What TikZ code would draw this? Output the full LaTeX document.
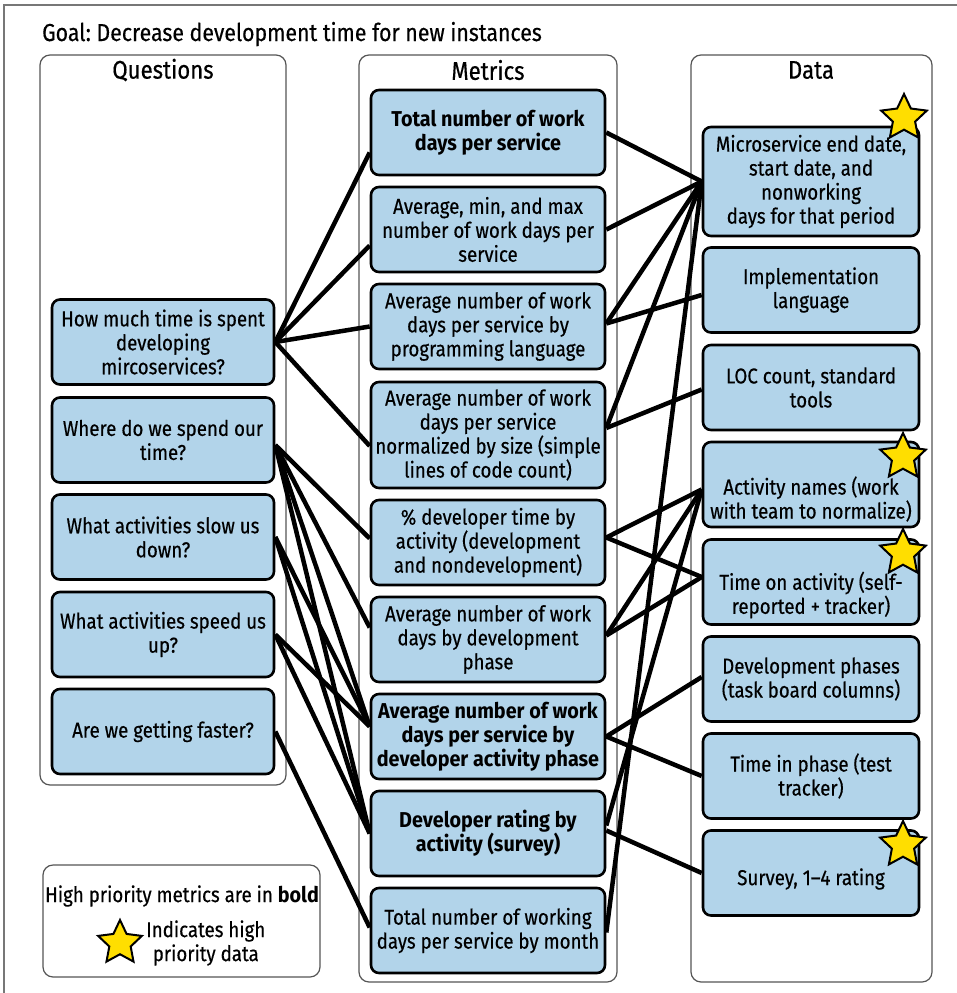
\documentclass[tikz,border=0pt]{standalone}
\usepackage{fontspec}
\setmainfont{Fira Sans}[
  UprightFeatures={FakeStretch=0.87, FakeBold=0.4},
  BoldFeatures={FakeStretch=0.92}]
\usetikzlibrary{shapes.geometric}
\definecolor{boxfill}{RGB}{178,212,234}
\definecolor{staryellow}{RGB}{255,222,0}
\definecolor{framegray}{RGB}{85,85,85}
\frenchspacing
\begin{document}
\begin{tikzpicture}[x=1pt,y=-1pt,
  item/.style={draw=black, line width=2.6pt, fill=boxfill, rounded corners=8pt,
    align=center, inner sep=0pt, font=\fontsize{21.5}{24}\selectfont},
  qbox/.style={item, minimum width=222pt, minimum height=85pt},
  mbox/.style={item, minimum width=234pt, minimum height=85pt},
  dbox/.style={item, minimum width=216pt, minimum height=85pt},
  dtext/.style={align=center, inner sep=0pt, font=\fontsize{21.5}{24}\selectfont},
  column/.style={draw=framegray, line width=1.2pt, rounded corners=10pt},
  link/.style={line width=4.5pt, black},
  prio/.style={star, star points=5, star point ratio=2.05, draw=black, line width=2pt,
    fill=staryellow, minimum size=48pt, inner sep=0pt},
  head/.style={inner sep=0pt, font=\fontsize{25.5}{28}\selectfont},
  goal/.style={inner sep=0pt, font=\fontsize{24.5}{28}\selectfont}
]
\useasboundingbox (0,0) rectangle (957,993);
\fill[white] (0,0) rectangle (957,993);

% outer frame (top and left edges)
\draw[framegray!80, line width=1.5pt] (4,993) -- (4,5) -- (957,5);

% title
\node[goal, anchor=base west] (title) at (42,41) {Goal: Decrease development time for new instances};

% columns
\draw[column] (40,55) rectangle (286,785);
\draw[column] (359,55) rectangle (617,982);
\draw[column] (691,55) rectangle (932,982);
\node[head] (hq) at (163,70) {Questions};
\node[head] (hm) at (488,70) {Metrics};
\node[head] (hd) at (811,70) {Data};

% questions
\node[qbox] (q1) at (163,342) {How much time is spent\\developing\\mircoservices?};
\node[qbox] (q2) at (163,440) {Where do we spend our\\time?};
\node[qbox] (q3) at (163,537) {What activities slow us\\down?};
\node[qbox] (q4) at (163,634.5) {What activities speed us\\up?};
\node[qbox] (q5) at (163,731.5) {Are we getting faster?};

% metrics
\node[mbox] (m1) at (488,132.5) {\textbf{Total number of work}\\\textbf{days per service}};
\node[mbox] (m2) at (488,229.5) {Average, min, and max\\number of work days per\\service};
\node[mbox] (m3) at (488,326.5) {Average number of work\\days per service by\\programming language};
\node[mbox, minimum height=106pt] (m4) at (488,435) {Average number of work\\days per service\\normalized by size (simple\\lines of code count)};
\node[mbox] (m5) at (488,542.5) {\% developer time by\\activity (development\\and nondevelopment)};
\node[mbox] (m6) at (488,639.5) {Average number of work\\days by development\\phase};
\node[mbox] (m7) at (488,736.5) {\textbf{Average number of work}\\\textbf{days per service by}\\\textbf{developer activity phase}};
\node[mbox] (m8) at (488,833.5) {\textbf{Developer rating by}\\\textbf{activity (survey)}};
\node[mbox] (m9) at (488,930.5) {Total number of working\\days per service by month};

% data
\node[dbox, minimum height=109pt] (d1) at (811,181.5) {Microservice end date,\\start date, and\\nonworking\\days for that period};
\node[dbox] (d2) at (811,290) {Implementation\\language};
\node[dbox] (d3) at (811,387.5) {LOC count, standard\\tools};
\node[dbox] (d4) at (811,484.5) {};
\node[dtext] (d4t) at (811,499) {Activity names (work\\with team to normalize)};
\node[dbox] (d5) at (811,582) {};
\node[dtext] (d5t) at (811,595) {Time on activity (self-\\reported + tracker)};
\node[dbox] (d6) at (811,679) {Development phases\\(task board columns)};
\node[dbox] (d7) at (811,776) {Time in phase (test\\tracker)};
\node[dbox] (d8) at (811,873) {};
\node[dtext] (d8t) at (811,879) {Survey, 1--4 rating};

% questions to metrics
\draw[link] (q1.east) -- ([yshift=-20pt]m1.west);
\draw[link] (q1.east) -- ([yshift=-16pt]m2.west);
\draw[link] (q1.east) -- (m3.west);
\draw[link] (q1.east) -- ([yshift=-11pt]m4.west);
\draw[link] ([yshift=-5pt]q2.east) -- ([yshift=4pt]m5.west);
\draw[link] ([yshift=-5pt]q2.east) -- ([yshift=12pt]m6.west);
\draw[link] ([yshift=-5pt]q2.east) -- ([yshift=10pt]m7.west);
\draw[link] ([yshift=-5pt]q2.east) -- (m8.west);
\draw[link] (q3.east) -- ([yshift=10pt]m7.west);
\draw[link] (q3.east) -- (m8.west);
\draw[link] (q4.east) -- ([yshift=10pt]m7.west);
\draw[link] (q4.east) -- (m8.west);
\draw[link] (q5.east) -- ([yshift=3pt]m9.west);

% metrics to data
\draw[link] (m1.east) -- (d1.west);
\draw[link] (m2.east) -- (d1.west);
\draw[link] ([yshift=3pt]m3.east) -- (d1.west);
\draw[link] ([yshift=3pt]m3.east) -- ([yshift=-5pt]d2.west);
\draw[link] ([yshift=7pt]m4.east) -- (d1.west);
\draw[link] ([yshift=7pt]m4.east) -- ([yshift=-2pt]d3.west);
\draw[link] ([yshift=5pt]m5.east) -- ([yshift=-5pt]d4.west);
\draw[link] ([yshift=5pt]m5.east) -- ([yshift=5pt]d5.west);
\draw[link] ([yshift=4pt]m6.east) -- ([yshift=-5pt]d4.west);
\draw[link] ([yshift=4pt]m6.east) -- ([yshift=5pt]d5.west);
\draw[link] (m7.east) -- ([yshift=2pt]d6.west);
\draw[link] (m7.east) -- (d7.west);
\draw[link] ([yshift=8pt]m8.east) -- ([yshift=-5pt]d4.west);
\draw[link] ([yshift=3pt]m8.east) -- (d8.west);
\draw[link] ([yshift=-2pt]m9.east) -- (d1.west);

% priority stars
\node[prio] (s1) at (904,118) {};
\node[prio] (s4) at (903,457) {};
\node[prio] (s5) at (903,553) {};
\node[prio] (s8) at (903,845) {};

% legend
\draw[column] (43,865) rectangle (320,977);
\node[dtext] (leg1) at (182,896) {High priority metrics are in \textbf{bold}};
\node[prio, minimum size=46pt] (legstar) at (120,943) {};
\node[dtext, anchor=west] (leg2) at (146,943) {Indicates high\\priority data};
\end{tikzpicture}
\end{document}
